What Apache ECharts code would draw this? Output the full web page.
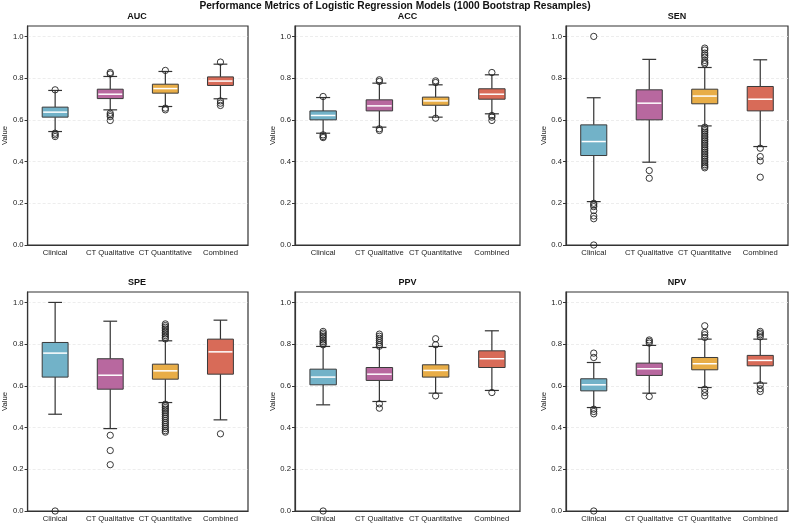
<!DOCTYPE html>
<html>
<head>
<meta charset="utf-8">
<title>Performance Metrics of Logistic Regression Models</title>
<script src="https://cdn.jsdelivr.net/npm/echarts@6/dist/echarts.min.js"></script>
<style>
  html, body { margin: 0; padding: 0; background: #fff; }
  #chart { width: 790px; height: 523px; }
</style>
</head>
<body>
<div id="chart"></div>
<script>
// x 轴类别
const models = ['Clinical', 'CT Qualitative', 'CT Quantitative', 'Combined'];
// 各子图指标
const metrics = ['AUC', 'ACC', 'SEN', 'SPE', 'PPV', 'NPV'];
const modelColors = ['#72b2c8', '#b8689f', '#e8ad47', '#d86b58'];
const yTicks = [0, 0.2, 0.4, 0.6, 0.8, 1.0];

// 箱线图: [下须, Q1, 中位数, Q3, 上须]
const aucBox = [[0.544, 0.613, 0.637, 0.661, 0.741], [0.648, 0.702, 0.723, 0.747, 0.808], [0.664, 0.728, 0.750, 0.771, 0.832], [0.701, 0.765, 0.786, 0.806, 0.867]];
const accBox = [[0.536, 0.600, 0.621, 0.643, 0.707], [0.565, 0.643, 0.667, 0.696, 0.776], [0.613, 0.670, 0.691, 0.709, 0.768], [0.629, 0.699, 0.723, 0.749, 0.816]];
const senBox = [[0.208, 0.429, 0.496, 0.576, 0.706], [0.397, 0.600, 0.680, 0.744, 0.890], [0.571, 0.677, 0.714, 0.747, 0.851], [0.472, 0.643, 0.699, 0.760, 0.888]];
const speBox = [[0.464, 0.642, 0.757, 0.808, 1.000], [0.395, 0.584, 0.651, 0.730, 0.910], [0.520, 0.632, 0.672, 0.704, 0.816], [0.437, 0.656, 0.763, 0.824, 0.915]];
const ppvBox = [[0.509, 0.605, 0.642, 0.680, 0.789], [0.525, 0.626, 0.656, 0.688, 0.784], [0.565, 0.642, 0.674, 0.701, 0.789], [0.578, 0.688, 0.730, 0.768, 0.864]];
const npvBox = [[0.496, 0.576, 0.605, 0.634, 0.712], [0.565, 0.650, 0.682, 0.709, 0.794], [0.592, 0.677, 0.706, 0.736, 0.824], [0.613, 0.696, 0.722, 0.746, 0.824]];

// 离群点
const aucOut = [
  [0.744, 0.536, 0.528, 0.520],
  [0.827, 0.820, 0.632, 0.624, 0.616, 0.597],
  [0.837, 0.656, 0.648],
  [0.877, 0.691, 0.680, 0.669]
];
const accOut = [
  [0.712, 0.528, 0.520, 0.515],
  [0.792, 0.784, 0.557, 0.549],
  [0.787, 0.779, 0.608],
  [0.827, 0.621, 0.613, 0.597]
];
const senOut = [
  [1.0, 0.200, 0.192, 0.184, 0.165, 0.139, 0.126, 0.0],
  [0.357, 0.320],
  [0.944, 0.935, 0.920, 0.910, 0.900, 0.885, 0.875, 0.868, 0.565, 0.556, 0.548, 0.540, 0.531, 0.522, 0.514, 0.505, 0.497, 0.488, 0.480, 0.471, 0.462, 0.454, 0.445, 0.437, 0.428, 0.420, 0.411, 0.402, 0.394, 0.385, 0.377, 0.370],
  [0.464, 0.424, 0.403, 0.325]
];
const speOut = [
  [0.0],
  [0.363, 0.290, 0.222],
  [0.897, 0.889, 0.881, 0.873, 0.865, 0.857, 0.849, 0.841, 0.833, 0.825, 0.512, 0.504, 0.496, 0.488, 0.480, 0.471, 0.462, 0.452, 0.443, 0.433, 0.423, 0.414, 0.404, 0.395, 0.385, 0.378],
  [0.370]
];
const ppvOut = [
  [0.861, 0.853, 0.845, 0.837, 0.829, 0.820, 0.812, 0.804, 0.797, 0.0],
  [0.848, 0.838, 0.828, 0.818, 0.808, 0.798, 0.790, 0.514, 0.493],
  [0.826, 0.797, 0.552],
  [0.568]
];
const npvOut = [
  [0.757, 0.736, 0.488, 0.477, 0.466, 0.0],
  [0.820, 0.813, 0.805, 0.549],
  [0.888, 0.856, 0.845, 0.832, 0.584, 0.568, 0.552],
  [0.861, 0.853, 0.845, 0.835, 0.605, 0.586, 0.573]
];

const boxes = [aucBox, accBox, senBox, speBox, ppvBox, npvBox];
const outliers = [aucOut, accOut, senOut, speOut, ppvOut, npvOut];

// 子图位置
const lefts = [26, 295, 566];
const widths = [222, 225, 222];
const tops = [26, 292];
const plotH = 219;
const font = 'Liberation Sans, Arial, sans-serif';

function renderBox(params, api) {
  const i = api.value(0);
  const band = api.size([1, 0])[0];
  const half = band * 0.235;
  const cap = band * 0.125;
  const lo = api.coord([i, api.value(1)]);
  const q1 = api.coord([i, api.value(2)]);
  const med = api.coord([i, api.value(3)]);
  const q3 = api.coord([i, api.value(4)]);
  const hi = api.coord([i, api.value(5)]);
  const x = med[0];
  const ls = {stroke: '#333', lineWidth: 1.2};
  return {
    type: 'group',
    children: [
      {type: 'line', shape: {x1: x, y1: lo[1], x2: x, y2: q1[1]}, style: ls},
      {type: 'line', shape: {x1: x, y1: q3[1], x2: x, y2: hi[1]}, style: ls},
      {type: 'line', shape: {x1: x - cap, y1: lo[1], x2: x + cap, y2: lo[1]}, style: ls},
      {type: 'line', shape: {x1: x - cap, y1: hi[1], x2: x + cap, y2: hi[1]}, style: ls},
      {type: 'rect', shape: {x: x - half, y: q3[1], width: half * 2, height: q1[1] - q3[1]},
        style: {fill: modelColors[i], stroke: '#3a3a3a', lineWidth: 1}},
      {type: 'line', shape: {x1: x - half + 1, y1: med[1], x2: x + half - 1, y2: med[1]},
        style: {stroke: '#ffffff', lineWidth: 1.5}}
    ]
  };
}

const grid = [], xAxis = [], yAxis = [], series = [], graphic = [];

graphic.push({
  type: 'text', x: 395, y: 6.5,
  style: {text: 'Performance Metrics of Logistic Regression Models (1000 Bootstrap Resamples)',
    font: 'bold 10.2px ' + font, fill: '#111', align: 'center', verticalAlign: 'middle'}
});

metrics.forEach(function (name, k) {
  const row = Math.floor(k / 3), col = k % 3;
  grid.push({
    left: lefts[col], top: tops[row], width: widths[col], height: plotH,
    show: true, borderColor: '#333', borderWidth: 1.2, backgroundColor: '#fff'
  });
  xAxis.push({
    type: 'category', gridIndex: k, data: models,
    axisLine: {lineStyle: {color: '#333', width: 1.2}},
    axisTick: {alignWithLabel: true, length: 3, lineStyle: {color: '#333'}},
    axisLabel: {fontSize: 7.7, color: '#222', fontFamily: font, margin: 4, interval: 0},
    splitLine: {show: false}
  });
  yAxis.push({
    type: 'value', gridIndex: k, min: 0, max: 1.05, interval: 0.2,
    name: 'Value', nameLocation: 'middle', nameGap: 18,
    nameTextStyle: {fontSize: 7.7, color: '#222', fontFamily: font},
    axisLine: {show: true, lineStyle: {color: '#333', width: 1.2}},
    axisTick: {show: true, length: 3, lineStyle: {color: '#333'}},
    axisLabel: {
      fontSize: 7.7, color: '#222', fontFamily: font, margin: 4, showMaxLabel: false,
      formatter: function (v) {
        return yTicks.some(t => Math.abs(t - v) < 1e-6) ? v.toFixed(1) : '';
      }
    },
    splitLine: {show: true, showMinLine: false, showMaxLine: false,
      lineStyle: {color: '#e8e8e8', type: [3, 2], width: 0.8}}
  });
  graphic.push({
    type: 'text', x: lefts[col] + widths[col] / 2, y: tops[row] - 9,
    style: {text: name, font: 'bold 9px ' + font, fill: '#111', align: 'center', verticalAlign: 'middle'}
  });
  series.push({
    type: 'custom', xAxisIndex: k, yAxisIndex: k,
    renderItem: renderBox,
    encode: {x: 0, y: [1, 2, 3, 4, 5]},
    data: boxes[k].map((b, i) => [i].concat(b)),
    z: 2
  });
  const pts = [];
  outliers[k].forEach(function (vals, i) {
    vals.forEach(v => pts.push([i, v]));
  });
  series.push({
    type: 'scatter', xAxisIndex: k, yAxisIndex: k,
    symbol: 'circle', symbolSize: 6.3, clip: false,
    itemStyle: {color: 'rgba(255,255,255,0)', borderColor: '#222', borderWidth: 0.9, opacity: 1},
    data: pts,
    z: 3
  });
});

const myChart = echarts.init(document.getElementById('chart'), null, {renderer: 'canvas'});
myChart.setOption({
  backgroundColor: '#fff',
  animation: false,
  grid: grid,
  xAxis: xAxis,
  yAxis: yAxis,
  series: series,
  graphic: graphic
});
</script>
</body>
</html>
